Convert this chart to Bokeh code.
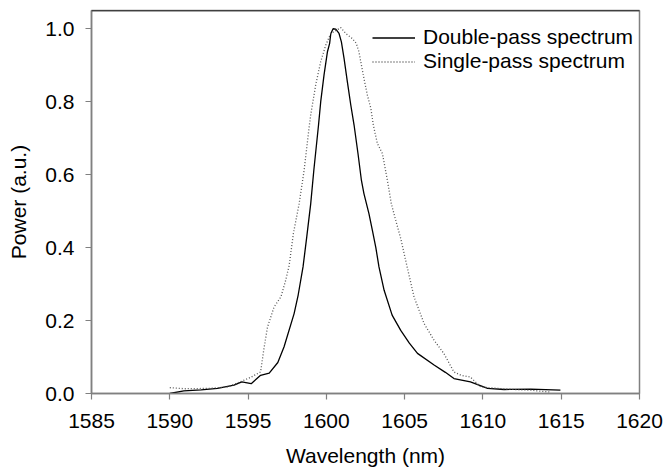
from bokeh.plotting import figure
from bokeh.models import (Range1d, FixedTicker, Legend, LegendItem, Span,
                          PrintfTickFormatter)
from bokeh.embed import file_html
from bokeh.resources import INLINE

# ---- data ----
double_wl = [1590.0, 1590.9, 1592.0, 1593.05, 1594.1, 1594.6, 1595.2, 1595.8, 1596.35,
             1596.9, 1597.3, 1597.94, 1598.2, 1598.51, 1598.75, 1599.0, 1599.2,
             1599.5, 1599.64, 1599.85, 1600.07, 1600.21, 1600.28, 1600.43, 1600.6,
             1600.81, 1600.96, 1601.13, 1601.34, 1601.56, 1601.77, 1602.02, 1602.24,
             1602.4, 1602.72, 1602.94, 1603.16, 1603.36, 1603.69, 1604.2, 1604.75,
             1605.3, 1605.82, 1606.88, 1607.6, 1608.15, 1609.2, 1610.3, 1611.35,
             1613.05, 1614.95]
double_pw = [0.0, 0.007, 0.010, 0.014, 0.023, 0.032, 0.027, 0.050, 0.056,
             0.085, 0.128, 0.219, 0.270, 0.347, 0.430, 0.520, 0.612,
             0.736, 0.800, 0.873, 0.937, 0.960, 0.986, 1.000, 0.999,
             0.987, 0.964, 0.919, 0.855, 0.791, 0.736, 0.658, 0.584,
             0.548, 0.493, 0.447, 0.400, 0.347, 0.283, 0.215, 0.173,
             0.138, 0.110, 0.078, 0.058, 0.041, 0.032, 0.014, 0.011,
             0.012, 0.009]

single_wl = [1590.0, 1591.0, 1592.5, 1593.7, 1594.5, 1595.2, 1595.8, 1596.0, 1596.24,
             1596.66, 1597.1, 1597.4, 1597.62, 1597.9, 1598.26, 1598.58, 1598.9,
             1599.0, 1599.32, 1599.64, 1599.96, 1600.28, 1600.92, 1601.24, 1601.66,
             1601.91, 1602.08, 1602.24, 1602.4, 1602.62, 1602.84, 1603.0, 1603.26,
             1603.58, 1603.9, 1604.15, 1604.43, 1604.75, 1605.17, 1605.6, 1606.24,
             1606.88, 1607.5, 1608.15, 1608.6, 1609.2, 1609.85, 1610.9, 1611.97,
             1613.05, 1614.3]
single_pw = [0.016, 0.013, 0.014, 0.018, 0.032, 0.045, 0.059, 0.119, 0.182,
             0.237, 0.265, 0.310, 0.350, 0.440, 0.520, 0.612, 0.730,
             0.764, 0.846, 0.910, 0.955, 0.987, 1.003, 0.987, 0.973,
             0.960, 0.937, 0.900, 0.864, 0.818, 0.782, 0.736, 0.685,
             0.658, 0.584, 0.520, 0.475, 0.425, 0.345, 0.265, 0.192,
             0.146, 0.110, 0.059, 0.050, 0.045, 0.018, 0.014, 0.011,
             0.009, 0.004]

x_ticks = [1585, 1590, 1595, 1600, 1605, 1610, 1615, 1620]
y_ticks = [0.0, 0.2, 0.4, 0.6, 0.8, 1.0]

series_names = ["Double-pass spectrum", "Single-pass spectrum"]

FONT = "Liberation Sans"
FSIZE = "21px"
AXIS_GRAY = "#808080"

p = figure(width=665, height=472, output_backend="svg", toolbar_location=None,
           x_range=Range1d(1585, 1620), y_range=Range1d(0, 1.05),
           min_border_left=91, min_border_right=26, min_border_top=10,
           min_border_bottom=79)
p.grid.visible = False
p.outline_line_color = AXIS_GRAY
p.outline_line_width = 1.5
p.background_fill_color = "white"
p.border_fill_color = "white"

top = Span(location=1.05, dimension="width", line_color="black", line_width=1.5)
p.add_layout(top)

r1 = p.line(double_wl, double_pw, line_color="black", line_width=1.3,
            line_join="round")
r2 = p.line(single_wl, single_pw, line_color="#555555", line_width=1.3,
            line_dash="1 2")

for ax in (p.xaxis[0], p.yaxis[0]):
    ax.axis_line_color = AXIS_GRAY
    ax.axis_line_width = 1.5
    ax.major_tick_line_color = AXIS_GRAY
    ax.major_tick_line_width = 1.2
    ax.major_tick_in = 0
    ax.major_tick_out = 6
    ax.minor_tick_line_color = None
    ax.major_label_text_font = FONT
    ax.major_label_text_font_size = FSIZE
    ax.major_label_text_color = "black"
    ax.axis_label_text_font = FONT
    ax.axis_label_text_font_size = FSIZE
    ax.axis_label_text_font_style = "normal"
    ax.axis_label_text_color = "black"

p.xaxis.ticker = FixedTicker(ticks=x_ticks)
p.yaxis.ticker = FixedTicker(ticks=y_ticks)
p.yaxis.formatter = PrintfTickFormatter(format="%.1f")
p.xaxis.axis_label = "Wavelength (nm)"
p.yaxis.axis_label = "Power (a.u.)"
p.xaxis.major_label_standoff = 14
p.yaxis.major_label_standoff = 11
p.xaxis.axis_label_standoff = 13
p.yaxis.axis_label_standoff = 12

legend = Legend(items=[LegendItem(label=series_names[0], renderers=[r1]),
                       LegendItem(label=series_names[1], renderers=[r2])],
                location=(281, 320), padding=0, margin=0, spacing=0,
                glyph_width=43, glyph_height=23, label_height=23,
                label_standoff=8, border_line_color=None,
                background_fill_alpha=0,
                label_text_font=FONT, label_text_font_size=FSIZE,
                label_text_color="black")
p.add_layout(legend)

open("out.html", "w").write(file_html(p, INLINE))
